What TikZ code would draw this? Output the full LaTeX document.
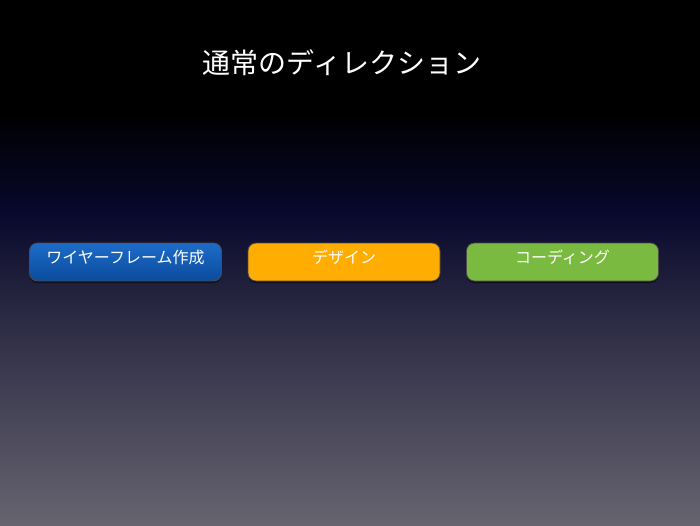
\documentclass[tikz,border=0pt]{standalone}
\usepackage{fontspec}
\setmainfont{Noto Sans CJK JP}
\usetikzlibrary{shadows}
\definecolor{bgnavy}{HTML}{08082C}
\definecolor{bgmid}{HTML}{2C2B44}
\definecolor{bggray}{HTML}{66646F}
\definecolor{blueT}{HTML}{1E6CC8}
\definecolor{blueB}{HTML}{0A4B9C}
\definecolor{orangeF}{HTML}{FFAD00}
\definecolor{greenF}{HTML}{7BBA40}
\tikzset{
  stepbox/.style={rounded corners=8pt, draw=black!70, line width=0.8pt,
    minimum width=192pt, minimum height=38pt, inner sep=0pt,
    text=white, font=\fontsize{16}{19}\selectfont,
    text height=12pt, text depth=10pt,
    drop shadow={shadow xshift=0pt, shadow yshift=-2pt, opacity=0.5, fill=black}},
}
\begin{document}
\begin{tikzpicture}[x=1pt,y=-1pt]
\useasboundingbox (0,0) rectangle (700,525);
\fill[black] (0,0) rectangle (700,112);
\shade[top color=black, bottom color=bgnavy] (0,111) rectangle (700,212);
\shade[top color=bgnavy, bottom color=bgmid] (0,211) rectangle (700,320);
\shade[top color=bgmid, bottom color=bggray] (0,319) rectangle (700,525);
\node[text=white, font=\fontsize{28}{33}\selectfont, inner sep=0pt] (title) at (342,63) {通常のディレクション};
\node[stepbox, top color=blueT, bottom color=blueB] (wire) at (125.5,262) {ワイヤーフレーム作成};
\node[stepbox, fill=orangeF] (design) at (344,262) {デザイン};
\node[stepbox, fill=greenF] (coding) at (562.5,262) {コーディング};
\end{tikzpicture}
\end{document}
